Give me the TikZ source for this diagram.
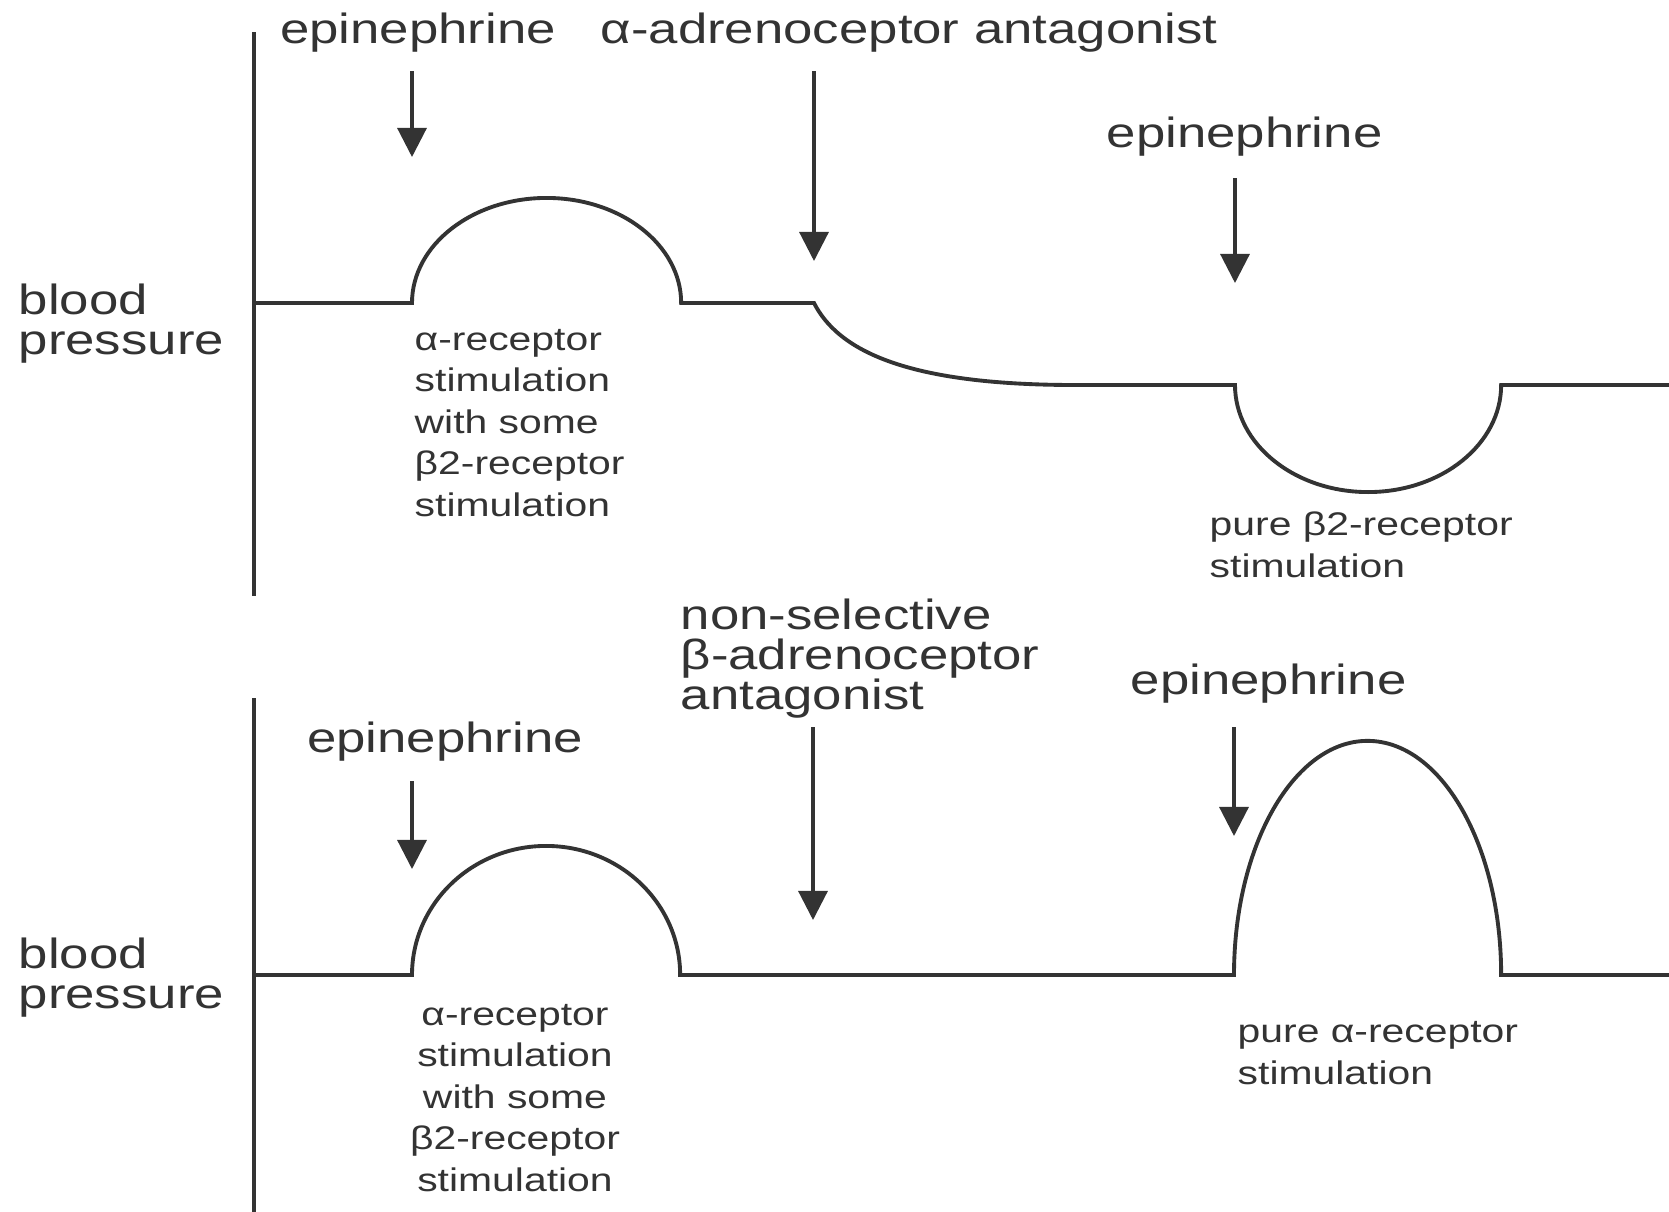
\documentclass[tikz,border=0pt]{standalone}
\usepackage{fontspec}
\setmainfont{Liberation Sans}[FakeStretch=1.25]
\usetikzlibrary{arrows.meta, positioning}
\definecolor{ink}{gray}{0.2}

\begin{document}
\begin{tikzpicture}[x=0.01cm, y=-0.01cm,
    >={Triangle[length=0.29cm, width=0.29cm]},
    trace/.style={draw=ink, line width=1.1pt},
    dose/.style ={->, draw=ink, line width=0.9pt},
    big/.style  ={text=ink, inner sep=0pt, align=left,
                  font=\fontsize{12}{11.3}\selectfont},
    note/.style ={text=ink, inner sep=0pt, align=left,
                  font=\fontsize{9.3}{11.8}\selectfont}
  ]
  \useasboundingbox (0,0) rectangle (1669,1212);

  % ---- top record: alpha blockade
  \node[big, anchor=base west] (bp1) at (18,354) {blood\\pressure};
  \draw[trace] (254,32) -- (254,596);
  \draw[trace] (254,303) -- (412,303)
    arc[start angle=180, end angle=0, x radius=1.345cm, y radius=1.05cm]
    -- (814,303) .. controls (838,350) and (905,385) .. (1075,385)
    -- (1235,385)
    arc[start angle=180, end angle=360, x radius=1.33cm, y radius=1.07cm]
    -- (1669,385);

  \node[big, anchor=base] (epi1) at (418,43) {epinephrine};
  \node[big, anchor=base west] (ablock) at (600,43) {α-adrenoceptor antagonist};
  \node[big, anchor=base west] (epi2) at (1106,147) {epinephrine};

  \coordinate (epi1-from) at (412,71);
  \coordinate (epi1-to)   at (412,157);
  \coordinate (ablock-from) at (814,71);
  \coordinate (ablock-to)   at (814,261);
  \coordinate (epi2-from) at (1235,178);
  \coordinate (epi2-to)   at (1235,283);
  \draw[dose] (epi1-from) -- (epi1-to);
  \draw[dose] (ablock-from) -- (ablock-to);
  \draw[dose] (epi2-from) -- (epi2-to);

  \node[note, anchor=base west] (mix1) at (414,516)
    {α-receptor\\stimulation\\with some\\β2-receptor\\stimulation};
  \node[note, anchor=base west] (beta1) at (1209,577)
    {pure β2-receptor\\stimulation};

  % ---- bottom record: beta blockade
  \node[big, anchor=base west] (bp2) at (18,1008) {blood\\pressure};
  \draw[trace] (254,698) -- (254,1212);
  \draw[trace] (254,975) -- (412,975)
    arc[start angle=180, end angle=0, x radius=1.34cm, y radius=1.29cm]
    -- (1234,975)
    arc[start angle=180, end angle=0, x radius=1.335cm, y radius=2.34cm]
    -- (1669,975);

  \node[big, anchor=base] (epi3) at (445,752) {epinephrine};
  \node[big, anchor=base west] (bblock) at (680,709)
    {non-selective\\β-adrenoceptor\\antagonist};
  \node[big, anchor=base west] (epi4) at (1130,694) {epinephrine};

  \coordinate (epi3-from) at (412,781);
  \coordinate (epi3-to)   at (412,869);
  \coordinate (bblock-from) at (813,727);
  \coordinate (bblock-to)   at (813,920);
  \coordinate (epi4-from) at (1234,727);
  \coordinate (epi4-to)   at (1234,836);
  \draw[dose] (epi3-from) -- (epi3-to);
  \draw[dose] (bblock-from) -- (bblock-to);
  \draw[dose] (epi4-from) -- (epi4-to);

  \node[note, align=center, anchor=base] (mix2) at (515,1191)
    {α-receptor\\stimulation\\with some\\β2-receptor\\stimulation};
  \node[note, anchor=base west] (alpha2) at (1237,1084)
    {pure α-receptor\\stimulation};
\end{tikzpicture}
\end{document}
